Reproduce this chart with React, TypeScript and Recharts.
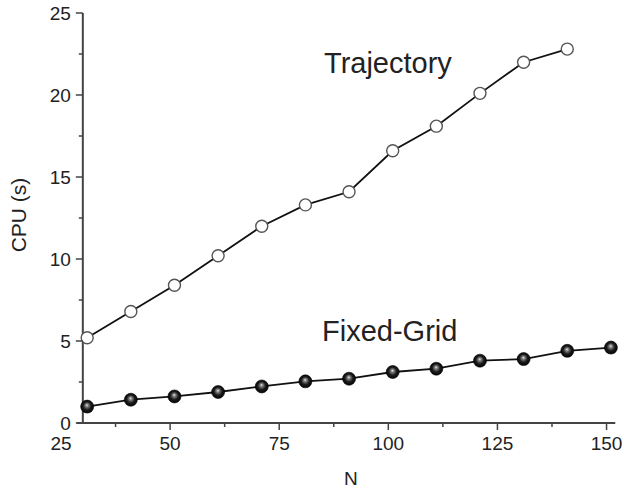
import { LineChart, Line, XAxis, YAxis, ReferenceLine } from "recharts";

// CPU time (s) against problem size N for the two schemes.
const trajectoryN = [31, 41, 51, 61, 71, 81, 91, 101, 111, 121, 131, 141];
const trajectoryCpu = [5.2, 6.8, 8.4, 10.2, 12.0, 13.3, 14.1, 16.6, 18.1, 20.1, 22.0, 22.8];

const fixedGridN = [31, 41, 51, 61, 71, 81, 91, 101, 111, 121, 131, 141, 151];
const fixedGridCpu = [1.0, 1.42, 1.62, 1.89, 2.23, 2.54, 2.7, 3.11, 3.31, 3.8, 3.9, 4.4, 4.6];

const xTicks = [25, 37.5, 50, 62.5, 75, 87.5, 100, 112.5, 125, 137.5, 150];
const yTicks = [0, 2.5, 5, 7.5, 10, 12.5, 15, 17.5, 20, 22.5, 25];

const trajectory = trajectoryN.map((n, i) => ({ n, cpu: trajectoryCpu[i] }));
const fixedGrid = fixedGridN.map((n, i) => ({ n, cpu: fixedGridCpu[i] }));

const W = 624;
const H = 485;
const MARGIN = { top: 13, right: 0, bottom: 32, left: 21 };
const Y_AXIS_W = 40;
const X_DOMAIN: [number, number] = [25, 154];
const AXIS_AT = 30; // the y axis is drawn at N = 30, not at the domain edge
const AXIS_END = 152;
const FONT = "'Liberation Sans', Arial, sans-serif";
const INK = "#222";
const AXIS = "#444";

const plotW = W - MARGIN.left - Y_AXIS_W - MARGIN.right;
const yAxisShift = ((AXIS_AT - X_DOMAIN[0]) / (X_DOMAIN[1] - X_DOMAIN[0])) * plotW;

function XTick({ x, y, payload }: any) {
  const v = payload.value as number;
  const major = v % 25 === 0;
  return (
    <g>
      {v >= AXIS_AT && (
        <line x1={x} x2={x} y1={y} y2={y + (major ? 7 : 4)} stroke={AXIS} strokeWidth={1.5} />
      )}
      {major && (
        <text x={x} y={y + 27} textAnchor="middle" fontSize={19} fontFamily={FONT} fill={INK}>
          {v}
        </text>
      )}
    </g>
  );
}

function YTick({ x, y, payload }: any) {
  const v = payload.value as number;
  const major = v % 5 === 0;
  const ax = x + yAxisShift;
  return (
    <g>
      <line x1={ax - (major ? 7 : 4)} x2={ax} y1={y} y2={y} stroke={AXIS} strokeWidth={1.5} />
      {major && (
        <text x={ax - 12} y={y + 7} textAnchor="end" fontSize={19} fontFamily={FONT} fill={INK}>
          {v}
        </text>
      )}
    </g>
  );
}

function OpenDot({ cx, cy, index }: any) {
  return <circle key={index} cx={cx} cy={cy} r={6} fill="#fff" stroke="#555" strokeWidth={1.4} />;
}

function Ball({ cx, cy, index }: any) {
  return (
    <circle key={index} cx={cx} cy={cy} r={6.5} fill="url(#ball)" stroke="#000" strokeWidth={0.6} />
  );
}

const note = (extra: React.CSSProperties): React.CSSProperties => ({
  position: "absolute",
  fontFamily: FONT,
  color: INK,
  whiteSpace: "nowrap",
  lineHeight: 1,
  ...extra,
});

export default function App() {
  return (
    <div style={{ position: "relative", width: W, height: H }}>
      <style>{`
        html, body { margin: 0; overflow: hidden; }
        .recharts-wrapper, .recharts-surface { overflow: visible !important; }
      `}</style>
      <svg width={0} height={0} style={{ position: "absolute" }}>
        <defs>
          <radialGradient id="ball" cx="50%" cy="50%" r="55%" fx="48%" fy="38%">
            <stop offset="0%" stopColor="#f2f2f2" />
            <stop offset="18%" stopColor="#8a8a8a" />
            <stop offset="55%" stopColor="#1c1c1c" />
            <stop offset="100%" stopColor="#000" />
          </radialGradient>
        </defs>
      </svg>
      <LineChart width={W} height={H} margin={MARGIN}>
        <XAxis
          type="number"
          dataKey="n"
          domain={X_DOMAIN}
          ticks={xTicks}
          axisLine={false}
          tickLine={false}
          tickSize={0}
          tickMargin={0}
          height={30}
          interval={0}
          tick={<XTick />}
        />
        <YAxis
          type="number"
          dataKey="cpu"
          domain={[0, 25]}
          ticks={yTicks}
          axisLine={false}
          tickLine={false}
          tickSize={0}
          tickMargin={0}
          width={Y_AXIS_W}
          interval={0}
          tick={<YTick />}
        />
        <ReferenceLine
          segment={[
            { x: AXIS_AT, y: 0 },
            { x: AXIS_AT, y: 25 },
          ]}
          stroke={AXIS}
          strokeWidth={2}
          ifOverflow="visible"
        />
        <ReferenceLine
          segment={[
            { x: 28.6, y: 0 },
            { x: AXIS_END, y: 0 },
          ]}
          stroke={AXIS}
          strokeWidth={2}
          ifOverflow="visible"
        />
        <Line
          data={trajectory}
          dataKey="cpu"
          stroke="#111"
          strokeWidth={1.8}
          dot={<OpenDot />}
          isAnimationActive={false}
        />
        <Line
          data={fixedGrid}
          dataKey="cpu"
          stroke="#111"
          strokeWidth={1.8}
          dot={<Ball />}
          isAnimationActive={false}
        />
      </LineChart>
      <div style={note({ left: 324, top: 49, fontSize: 29 })}>Trajectory</div>
      <div style={note({ left: 322, top: 317, fontSize: 29 })}>Fixed-Grid</div>
      <div style={note({ left: 344, top: 469, fontSize: 19 })}>N</div>
      <div
        style={note({
          left: 18,
          top: 215,
          fontSize: 21,
          transform: "translate(-50%, -50%) rotate(-90deg)",
        })}
      >
        CPU (s)
      </div>
    </div>
  );
}
